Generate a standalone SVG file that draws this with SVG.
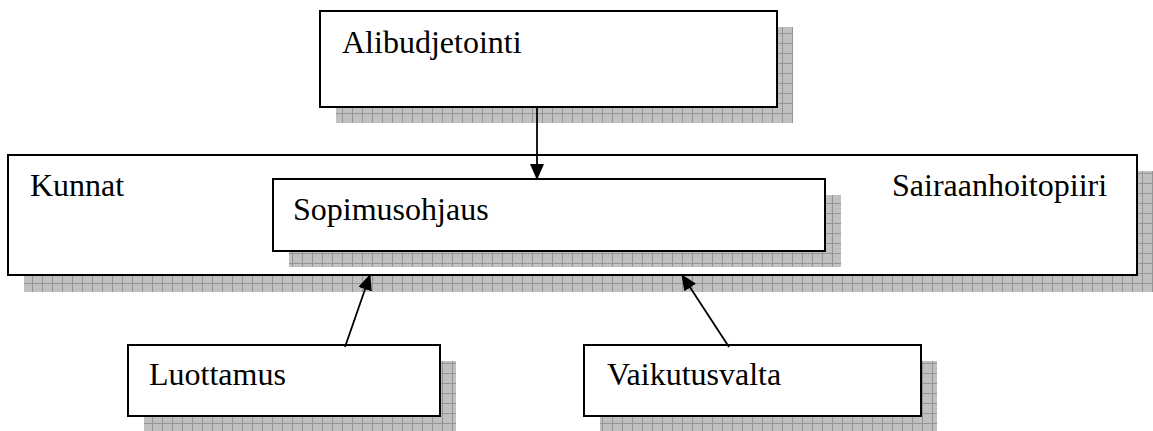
<svg xmlns="http://www.w3.org/2000/svg" width="1153" height="431" viewBox="0 0 1153 431">
  <style>
    .box { fill: #ffffff; stroke: #000000; stroke-width: 2; }
    .shadow { fill: url(#shadowPat); stroke: none; }
    .label { font-family: "Liberation Serif", "Times New Roman", serif; font-size: 32px; fill: #000000; }
    .conn { stroke: #000000; stroke-width: 1.8; fill: none; marker-end: url(#arrow); }
  </style>
  <defs>
    <pattern id="shadowPat" patternUnits="userSpaceOnUse" width="10" height="10" x="2" y="3">
      <rect width="10" height="10" fill="#c0c0c0"/>
      <path d="M0,0.5 H10 M0.5,0 V10" stroke="#959595" stroke-width="1"/>
    </pattern>
    <marker id="arrow" markerUnits="userSpaceOnUse" markerWidth="16" markerHeight="14" refX="15" refY="7" orient="auto">
      <path d="M0,0 L16,7 L0,14 Z" fill="#000000"/>
    </marker>
  </defs>

  <g id="node-kunnat-sairaanhoitopiiri">
    <rect class="shadow" x="24" y="171" width="1129" height="121"/>
    <rect class="box" x="8" y="155" width="1129" height="120"/>
    <text class="label" x="30" y="196">Kunnat</text>
    <text class="label" x="892" y="196">Sairaanhoitopiiri</text>
  </g>

  <g id="node-alibudjetointi">
    <rect class="shadow" x="336" y="27" width="457" height="96"/>
    <rect class="box" x="320" y="11" width="457" height="96"/>
    <text class="label" x="342" y="53">Alibudjetointi</text>
  </g>

  <g id="node-sopimusohjaus">
    <rect class="shadow" x="289" y="195" width="552" height="72"/>
    <rect class="box" x="273" y="179" width="552" height="72"/>
    <text class="label" x="293" y="220">Sopimusohjaus</text>
  </g>

  <g id="node-luottamus">
    <rect class="shadow" x="144" y="361" width="312" height="71"/>
    <rect class="box" x="128" y="345" width="312" height="71"/>
    <text class="label" x="149" y="385">Luottamus</text>
  </g>

  <g id="node-vaikutusvalta">
    <rect class="shadow" x="600" y="361" width="337" height="71"/>
    <rect class="box" x="584" y="345" width="337" height="71"/>
    <text class="label" x="607" y="385">Vaikutusvalta</text>
  </g>

  <g id="connectors">
    <line class="conn" x1="537" y1="107" x2="537" y2="179"/>
    <line class="conn" x1="345" y1="347" x2="370" y2="275"/>
    <line class="conn" x1="729" y1="347" x2="682" y2="275"/>
  </g>
</svg>
